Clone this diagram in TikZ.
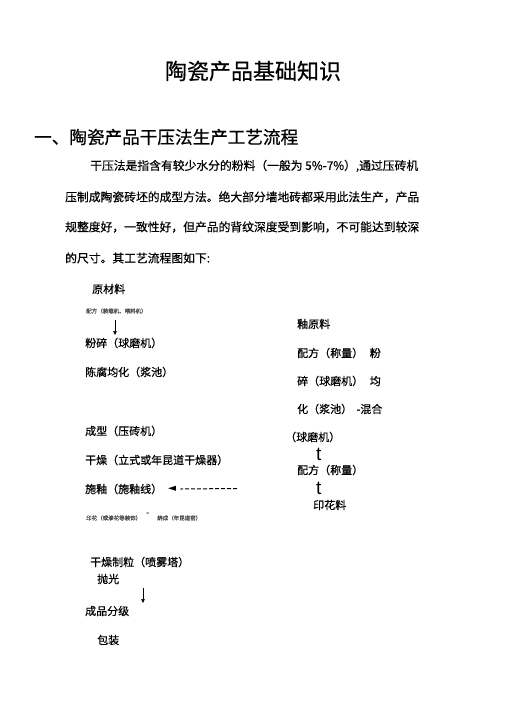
\documentclass[tikz,border=0pt]{standalone}
\usepackage{fontspec}
\setmainfont{Noto Sans CJK SC}[FakeBold=0.5]
\newfontfamily\dejavu{DejaVu Sans}
\newfontfamily\latinsans{Liberation Sans}
\usetikzlibrary{arrows.meta}
\begin{document}
\begin{tikzpicture}[x=1pt,y=-1pt,
  every node/.style={inner sep=0pt},
  title/.style={font=\fontsize{22}{22}\selectfont},
  heading/.style={anchor=west,font=\fontsize{17.6}{17.6}\selectfont},
  para/.style={anchor=west,font=\fontsize{11.8}{11.8}\selectfont},
  flow/.style={anchor=west,font=\fontsize{11}{11}\selectfont},
  tiny/.style={anchor=west,font=\fontsize{5.5}{5.5}\selectfont,text=black!70},
  bigt/.style={anchor=west,font=\latinsans\fontsize{19}{19}\selectfont},
  downarrow/.style={-{Triangle[length=4pt,width=3.5pt]},line width=0.5pt}
]
\useasboundingbox (0,0) rectangle (506,724);
\node[title] (title) at (253,71) {陶瓷产品基础知识};
\node[heading] (head) at (34,137) {一、陶瓷产品干压法生产工艺流程};
\node[para] (p1) at (90,166) {干压法是指含有较少水分的粉料（一般为 5\%-7\%）,通过压砖机};
\node[para] (p2) at (65,197) {压制成陶瓷砖坯的成型方法。绝大部分墙地砖都采用此法生产，产品};
\node[para] (p3) at (65,227) {规整度好，一致性好，但产品的背纹深度受到影响，不可能达到较深};
\node[para] (p4) at (65,258) {的尺寸。其工艺流程图如下:};

\node[flow] (ycl) at (92,289) {原材料};
\node[tiny] (pf) at (86,311) {配方（装载机、喂料机）};
\coordinate (a1s) at (115,320);
\node[flow] (fs) at (85,343) {粉碎（球磨机）};
\draw[downarrow] (a1s) -- (115,335);
\node[flow] (cf) at (85,372) {陈腐均化（浆池）};
\node[flow] (cx) at (85,431) {成型（压砖机）};
\node[flow] (gz) at (85,460) {干燥（立式或年昆道干燥器）};
\node[flow] (sy) at (85,489) {施釉（施釉线）};
\node[anchor=west,font=\dejavu\fontsize{10.5}{10.5}\selectfont] (tri) at (168,489) {◄};
\coordinate (dend) at (237,488.5);
\draw[line width=1pt,dash pattern=on 4pt off 2pt] (dend) -- ([xshift=4pt]tri.east);
\node[tiny] (yh) at (86,518) {印花（或渗花等装饰）};
\node[anchor=west,font=\fontsize{8}{8}\selectfont] (dash2) at (146,514) {-};
\node[tiny] (sc) at (157,518) {烧成（年昆道窑）};

\node[flow] (gzzl) at (90,562) {干燥制粒（喷雾塔）};
\node[flow] (pg) at (97,579) {抛光};
\coordinate (a2s) at (143,588);
\draw[downarrow] (a2s) -- (143,603);
\node[flow] (cp) at (85,611) {成品分级};
\node[flow] (bz) at (97,640) {包装};

\node[flow] (yyl) at (297,324) {釉原料};
\node[flow] (r1) at (297,353) {配方（称量）\hspace{0.6em}粉};
\node[flow] (r2) at (297,381) {碎（球磨机）\hspace{0.6em}均};
\node[flow] (r3) at (297,409) {化（浆池）\hspace{0.4em}-混合};
\node[flow] (r4) at (285,437) {（球磨机）};
\node[bigt] (t1) at (316,454) {t};
\node[flow] (r5) at (297,470) {配方（称量）};
\node[bigt] (t2) at (316,488) {t};
\node[flow] (yhl) at (313,505) {印花料};
\end{tikzpicture}
\end{document}
